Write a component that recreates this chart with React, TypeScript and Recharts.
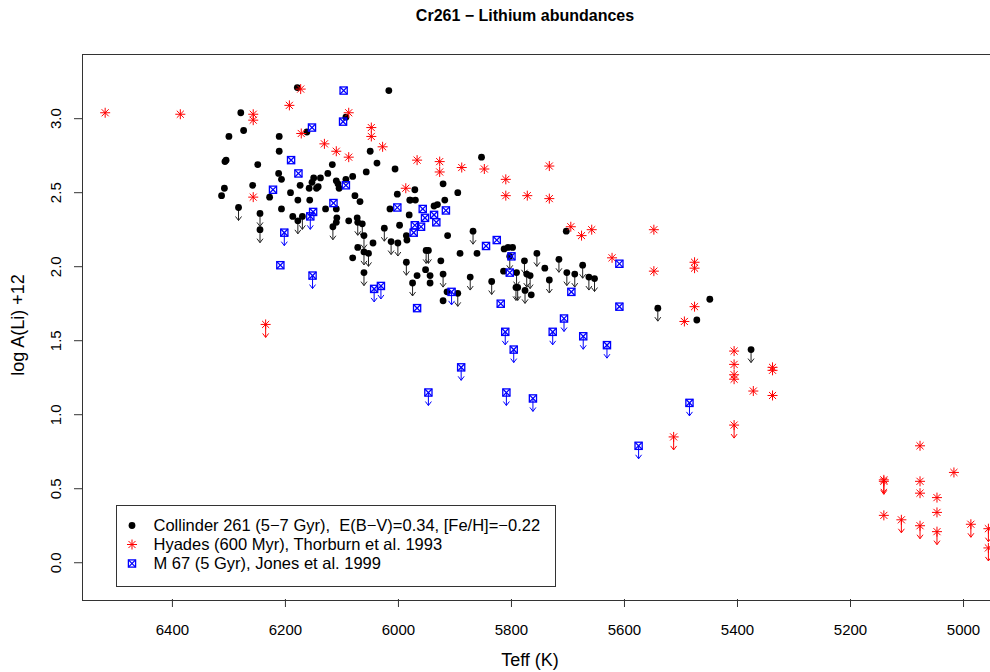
import { ScatterChart, Scatter, XAxis, YAxis } from 'recharts'

type Pt = [number, number]

// Teff (K), log A(Li)+12 -- detections and upper limits per cluster
const collinderDet: Pt[] = [
    [6179, 3.21], [6017, 3.19], [6279, 3.04], [6274, 2.92], [6300, 2.88], [6211, 2.88], [6162, 2.91], [6093, 3.01],
    [6211, 2.78], [6050, 2.78], [6038, 2.70], [6006, 2.66], [6307, 2.71], [6305, 2.72], [6249, 2.69], [6117, 2.69],
    [6125, 2.63], [6057, 2.64], [6081, 2.61], [6093, 2.59], [6212, 2.63], [6207, 2.59], [6138, 2.60], [6150, 2.60],
    [6153, 2.57], [6158, 2.53], [6142, 2.54], [6145, 2.53], [6110, 2.58], [6107, 2.56], [6105, 2.53], [6174, 2.55],
    [6191, 2.50], [6308, 2.53], [6258, 2.55], [6313, 2.48], [6228, 2.47], [6178, 2.45], [6157, 2.45], [6077, 2.48],
    [6068, 2.44], [6207, 2.39], [6187, 2.34], [6129, 2.39], [6110, 2.39], [6109, 2.33], [6110, 2.30], [6088, 2.31],
    [6073, 2.33], [6045, 2.16], [6081, 2.06], [5998, 2.28], [5986, 2.21], [5985, 2.18], [5981, 2.35], [6015, 2.39],
    [5980, 2.45], [6002, 2.49], [6072, 2.13], [5967, 1.94], [5952, 1.98], [5944, 1.94], [5944, 1.89], [5925, 2.04],
    [5891, 2.09], [5861, 2.09], [5913, 2.21], [5921, 2.56], [5895, 2.50], [5971, 2.52], [5979, 2.45], [5970, 2.45],
    [5937, 2.41], [5931, 2.42], [5918, 2.45], [5914, 1.83], [5921, 1.77], [5853, 2.74], [5813, 2.12], [5806, 2.13],
    [5798, 2.13], [5814, 1.97], [5741, 1.99], [5765, 1.81], [5703, 2.24], [5472, 1.64], [5449, 1.78],
]
const collinderUL: Pt[] = [
    [6283, 2.40], [6245, 2.36], [6245, 2.25], [6178, 2.31], [6170, 2.34], [6116, 2.27], [6072, 2.30], [6064, 2.29],
    [6061, 2.21], [6061, 2.10], [6053, 2.09], [6025, 2.26], [6013, 2.17], [6001, 2.16], [5986, 2.03], [6061, 1.96],
    [5975, 1.89], [5921, 1.95], [5951, 2.11], [5947, 2.11], [5868, 2.24], [5873, 1.93], [5835, 1.90], [5895, 1.82],
    [5803, 2.07], [5791, 1.96], [5777, 2.04], [5755, 2.09], [5773, 1.95], [5767, 1.94], [5792, 1.86], [5789, 1.86],
    [5776, 1.84], [5733, 1.91], [5716, 2.05], [5702, 1.96], [5688, 1.95], [5674, 2.01], [5663, 1.93], [5653, 1.92],
    [5541, 1.72], [5376, 1.44],
]

const hyadesDet: Pt[] = [
    [6519, 3.04], [6386, 3.03], [6257, 3.03], [6257, 2.99], [6193, 3.09], [6173, 3.20], [6172, 2.90], [6131, 2.83],
    [6110, 2.78], [6088, 2.74], [6088, 3.04], [6048, 2.94], [6048, 2.88], [6028, 2.81], [5987, 2.53], [6257, 2.47],
    [5967, 2.72], [5927, 2.71], [5927, 2.64], [5888, 2.67], [5848, 2.66], [5810, 2.59], [5810, 2.48], [5772, 2.48],
    [5733, 2.68], [5733, 2.46], [5695, 2.27], [5676, 2.21], [5658, 2.25], [5622, 2.06], [5548, 2.25], [5548, 1.97],
    [5476, 2.03], [5476, 1.99], [5476, 1.73], [5494, 1.63], [5406, 1.43], [5406, 1.34], [5406, 1.27], [5406, 1.24],
    [5372, 1.16], [5338, 1.32], [5338, 1.30], [5338, 1.13], [5077, 0.79], [5141, 0.32], [5077, 0.55], [5077, 0.47],
    [5047, 0.44], [5047, 0.34], [5017, 0.61],
]
const hyadesUL: Pt[] = [
    [6235, 1.61], [5513, 0.85], [5406, 0.93], [5141, 0.55], [5141, 0.56], [5110, 0.29], [5077, 0.25], [5047, 0.21],
    [4987, 0.26], [4956, 0.23], [4956, 0.10],
]

const m67Det: Pt[] = [
    [6097, 3.19], [6153, 2.94], [6098, 2.98], [6190, 2.72], [6177, 2.63], [6222, 2.52], [6093, 2.55], [6115, 2.43],
    [6151, 2.37], [6209, 2.01], [6002, 2.40], [5967, 1.72], [5957, 2.39], [5937, 2.35], [5916, 2.38], [5953, 2.33],
    [5933, 2.30], [5971, 2.28], [5960, 2.27], [5973, 2.23], [5845, 2.14], [5826, 2.18], [5819, 1.75], [5800, 2.07],
    [5803, 1.96], [5694, 1.83], [5609, 2.02], [5609, 1.73],
]
const m67UL: Pt[] = [
    [6156, 2.34], [6202, 2.23], [6152, 1.94], [6043, 1.85], [6031, 1.87], [5906, 1.83], [5707, 1.65], [5811, 1.56],
    [5796, 1.44], [5889, 1.32], [5947, 1.15], [5809, 1.15], [5762, 1.11], [5727, 1.56], [5673, 1.53], [5631, 1.47],
    [5485, 1.08], [5575, 0.79],
]

const xTicks = [6400, 6200, 6000, 5800, 5600, 5400, 5200, 5000]
const yTicks = [0, 0.5, 1, 1.5, 2, 2.5, 3]

const legendItems = [
    { key: 'cr', label: 'Collinder 261 (5\u22127 Gyr),  E(B\u2212V)=0.34, [Fe/H]=\u22120.22' },
    { key: 'hy', label: 'Hyades (600 Myr), Thorburn et al. 1993' },
    { key: 'm67', label: 'M 67 (5 Gyr), Jones et al. 1999' },
]

const toRows = (det: Pt[], ul: Pt[]) => [
    ...det.map(([t, a]) => ({ t, a, ul: false })),
    ...ul.map(([t, a]) => ({ t, a, ul: true })),
]

const collinderData = toRows(collinderDet, collinderUL)
const hyadesData = toRows(hyadesDet, hyadesUL)
const m67Data = toRows(m67Det, m67UL)

const FONT = '"Liberation Sans", Arial, Helvetica, sans-serif'
const RED = '#ff0000'
const BLUE = '#0000ff'

function Arrow({ cx, cy, color }: { cx: number; cy: number; color: string }) {
    return (
        <g stroke={color} strokeWidth={1} fill="none">
            <line x1={cx} y1={cy} x2={cx} y2={cy + 13} />
            <polyline points={`${cx - 3},${cy + 9} ${cx},${cy + 13} ${cx + 3},${cy + 9}`} />
        </g>
    )
}

function Dot({ cx, cy }: { cx: number; cy: number }) {
    return <circle cx={cx} cy={cy} r={3.4} fill="#000" />
}

function Star({ cx, cy }: { cx: number; cy: number }) {
    const r = 5
    const d = r * 0.7071
    return (
        <g stroke={RED} strokeWidth={1}>
            <line x1={cx - r} y1={cy} x2={cx + r} y2={cy} />
            <line x1={cx} y1={cy - r} x2={cx} y2={cy + r} />
            <line x1={cx - d} y1={cy - d} x2={cx + d} y2={cy + d} />
            <line x1={cx - d} y1={cy + d} x2={cx + d} y2={cy - d} />
        </g>
    )
}

function BoxX({ cx, cy }: { cx: number; cy: number }) {
    const h = 3.6
    return (
        <g stroke={BLUE} strokeWidth={1.3} fill="none">
            <rect x={cx - h} y={cy - h} width={2 * h} height={2 * h} />
            <line x1={cx - h} y1={cy - h} x2={cx + h} y2={cy + h} />
            <line x1={cx - h} y1={cy + h} x2={cx + h} y2={cy - h} />
        </g>
    )
}

const crShape = (p: any) => (
    <g>
        {p.payload.ul && <Arrow cx={p.cx} cy={p.cy} color="#222" />}
        <Dot cx={p.cx} cy={p.cy} />
    </g>
)
const hyShape = (p: any) => (
    <g>
        {p.payload.ul && <Arrow cx={p.cx} cy={p.cy} color={RED} />}
        <Star cx={p.cx} cy={p.cy} />
    </g>
)
const m67Shape = (p: any) => (
    <g>
        {p.payload.ul && <Arrow cx={p.cx} cy={p.cy} color={BLUE} />}
        <BoxX cx={p.cx} cy={p.cy} />
    </g>
)

const YTick = (p: any) => (
    <text
        x={61}
        y={p.y}
        transform={`rotate(-90 61 ${p.y})`}
        textAnchor="middle"
        fontSize={15}
        fontFamily={FONT}
        fill="#000"
    >
        {p.payload.value.toFixed(1)}
    </text>
)

const legendMarks = [Dot, Star, BoxX]

export default function App() {
    return (
        <div style={{ position: 'absolute', left: 0, top: 0, width: 990, height: 672, overflow: 'hidden', background: '#fff', fontFamily: FONT }}>
            <ScatterChart width={1000} height={672} margin={{ top: 54, right: 2, bottom: 0, left: 0 }}>
                <XAxis
                    type="number"
                    dataKey="t"
                    domain={[4939, 6560]}
                    reversed
                    allowDataOverflow
                    ticks={xTicks}
                    height={73}
                    tickSize={8}
                    tickMargin={17}
                    axisLine={false}
                    tickLine={{ stroke: '#333' }}
                    tick={{ fontSize: 15, fill: '#000', fontFamily: FONT }}
                />
                <YAxis
                    type="number"
                    dataKey="a"
                    domain={[-0.245, 3.437]}
                    allowDataOverflow
                    ticks={yTicks}
                    width={82}
                    tickSize={8}
                    axisLine={false}
                    tickLine={{ stroke: '#333' }}
                    tick={YTick}
                />
                <Scatter data={collinderData} shape={crShape} isAnimationActive={false} />
                <Scatter data={hyadesData} shape={hyShape} isAnimationActive={false} />
                <Scatter data={m67Data} shape={m67Shape} isAnimationActive={false} />
            </ScatterChart>

            {/* plot frame */}
            <div style={{ position: 'absolute', left: 81.5, top: 53.5, width: 916, height: 545, border: '1px solid #333', pointerEvents: 'none' }} />

            <div style={{ position: 'absolute', left: 0, top: 7, width: 1050, textAlign: 'center', fontWeight: 'bold', fontSize: 16 }}>
                Cr261 {'\u2212'} Lithium abundances
            </div>
            <div style={{ position: 'absolute', left: 82, top: 650, width: 896, textAlign: 'center', fontSize: 18 }}>
                Teff (K)
            </div>
            <div
                style={{
                    position: 'absolute', left: 18, top: 325, fontSize: 18, whiteSpace: 'nowrap',
                    transform: 'translate(-50%, -50%) rotate(-90deg)',
                }}
            >
                log A(Li) +12
            </div>

            {/* legend */}
            <div style={{ position: 'absolute', left: 115.5, top: 504.5, width: 438, height: 80, border: '1px solid #333', background: '#fff' }}>
                {legendItems.map((it, i) => {
                    const Mark = legendMarks[i]
                    return (
                        <div key={it.key} style={{ position: 'absolute', left: 0, top: 10 + i * 19, height: 19, display: 'flex', alignItems: 'center' }}>
                            <svg width={30} height={19} style={{ marginLeft: 0 }}>
                                <Mark cx={15} cy={9.5} />
                            </svg>
                            <span style={{ marginLeft: 7, fontSize: 16.5, whiteSpace: 'pre' }}>{it.label}</span>
                        </div>
                    )
                })}
            </div>
        </div>
    )
}
